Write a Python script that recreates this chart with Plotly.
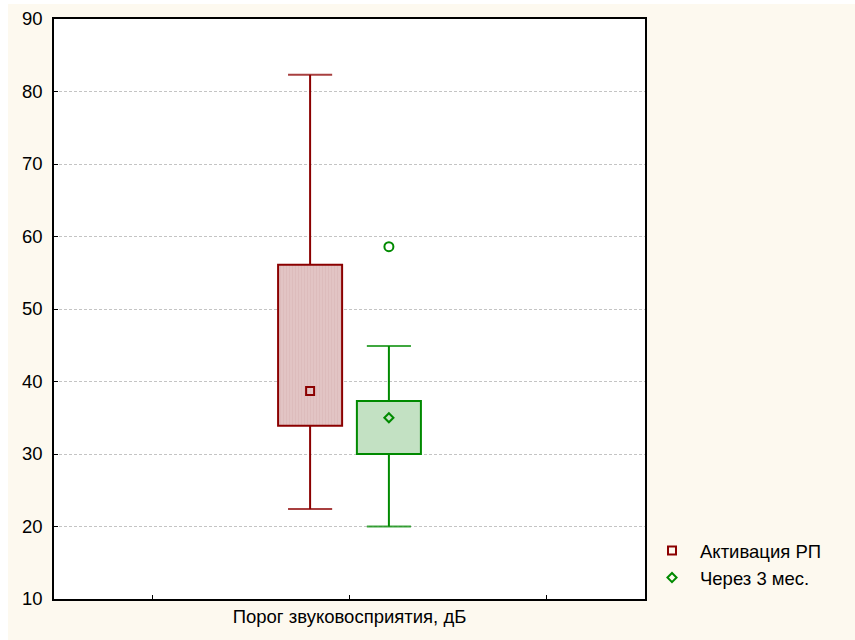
import plotly.graph_objects as go

# ---- data ----
series_names = ["Активация РП", "Через 3 мес."]
category_label = "Порог звуковосприятия, дБ"
x_pos = [-0.2, 0.2]
q1 = [33.9, 30.0]
q3 = [56.1, 37.3]
median = [38.7, 35.0]
lower_whisker = [22.4, 20.0]
upper_whisker = [82.3, 44.9]
outlier_x = [0.2]
outlier_y = [58.6]
y_ticks = [10, 20, 30, 40, 50, 60, 70, 80, 90]

line_colors = ["#8b0000", "#008a00"]
fill_colors = ["#e2c4c4", "#c3e1c3"]
pattern_colors = ["#d6b0b0", "#c3e1c3"]
marker_symbols = ["square-open", "diamond-open"]
marker_sizes = [8, 7]

box_w = 0.325
cap_w = 0.224

fig = go.Figure()

for i in range(2):
    fig.add_trace(go.Bar(
        x=[x_pos[i]], y=[q3[i] - q1[i]], base=[q1[i]], width=box_w,
        marker=dict(color=fill_colors[i], line=dict(color=line_colors[i], width=2),
                    pattern=dict(shape="|" if i == 0 else "", fgcolor=pattern_colors[i],
                                 bgcolor=fill_colors[i], size=3, solidity=0.25)),
        showlegend=False, hoverinfo="skip"))
    fig.add_trace(go.Scatter(
        x=[x_pos[i], x_pos[i], None, x_pos[i], x_pos[i]],
        y=[q3[i], upper_whisker[i], None, q1[i], lower_whisker[i]],
        mode="lines", line=dict(color=line_colors[i], width=2),
        showlegend=False, hoverinfo="skip"))
    fig.add_trace(go.Scatter(
        x=[x_pos[i] - cap_w / 2, x_pos[i] + cap_w / 2, None, x_pos[i] - cap_w / 2, x_pos[i] + cap_w / 2],
        y=[upper_whisker[i], upper_whisker[i], None, lower_whisker[i], lower_whisker[i]],
        mode="lines", line=dict(color=line_colors[i], width=2), opacity=0.75,
        showlegend=False, hoverinfo="skip"))

fig.add_trace(go.Scatter(
    x=outlier_x, y=outlier_y, mode="markers",
    marker=dict(symbol="circle-open", size=9, color=line_colors[1], line=dict(width=2)),
    showlegend=False, hoverinfo="skip"))

for i in range(2):
    fig.add_trace(go.Scatter(
        x=[x_pos[i]], y=[median[i]], mode="markers", name=series_names[i],
        marker=dict(symbol=marker_symbols[i], size=marker_sizes[i], color=line_colors[i],
                    line=dict(width=2, color=line_colors[i]))))

L, R, T, B = 54, 210, 19, 41
W, H = 855, 640
pw, ph = W - L - R, H - T - B

fig.update_layout(
    width=W, height=H,
    margin=dict(l=L, r=R, t=T, b=B, autoexpand=False),
    paper_bgcolor="white",
    plot_bgcolor="white",
    barmode="overlay",
    font=dict(family="Liberation Sans, Arial, sans-serif", size=18.5, color="black"),
    shapes=[
        dict(type="rect", xref="paper", yref="paper", layer="below",
             x0=(8 - L) / pw, x1=(W - L) / pw, y0=-B / ph, y1=(H - B - 4) / ph,
             fillcolor="#fdf9ef", line=dict(width=0)),
        dict(type="rect", xref="paper", yref="paper", layer="below",
             x0=0, x1=1, y0=0, y1=1,
             fillcolor="white", line=dict(width=0)),
    ],
    legend=dict(x=(644 - L) / pw, y=(H - B - 532) / ph, xanchor="left", yanchor="top",
                bgcolor="rgba(0,0,0,0)", font=dict(size=18.5), tracegroupgap=0,
                itemwidth=46),
    xaxis=dict(range=[-1.5, 1.5], tickvals=[-1, 0, 1], ticktext=["", category_label, ""],
               ticks="inside", ticklen=4, tickcolor="black", automargin=False,
               showgrid=False, zeroline=False, showline=True, linecolor="black",
               linewidth=1.5, mirror=True),
    yaxis=dict(range=[10, 90], tickvals=y_ticks, ticks="inside", ticklen=4, tickcolor="black",
               showgrid=True, gridcolor="#c4c4c4", griddash="3px,2px", gridwidth=1,
               automargin=False,
               zeroline=False, showline=True, linecolor="black", linewidth=1.5, mirror=True,
               ticklabelstandoff=6),
)

fig.write_html("out.html")
